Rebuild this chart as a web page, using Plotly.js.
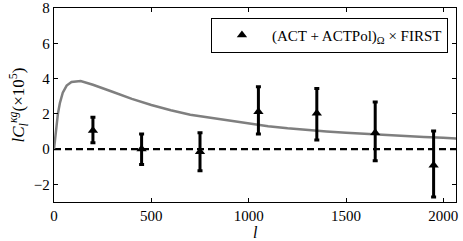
<!DOCTYPE html>
<html>
<head>
<meta charset="utf-8">
<script src="https://cdn.plot.ly/plotly-3.0.1.min.js"></script>
<style>html,body{margin:0;padding:0;background:#fff;}#chart{width:463px;height:241px;}</style>
</head>
<body>
<div id="chart"></div>
<script>
// Data points (ACT+ACTPol)_Omega x FIRST
const ell = [200, 450, 750, 1050, 1350, 1650, 1950];
const clkg = [1.05, 0.0, -0.15, 2.12, 2.03, 0.93, -0.91];
const errUp = [0.75, 0.85, 1.08, 1.42, 1.40, 1.74, 1.93];
const errDown = [0.69, 0.87, 1.08, 1.27, 1.52, 1.59, 1.80];

// Theory curve
const thL = [0, 10, 20, 30, 45, 65, 90, 137, 200, 300, 400, 500, 600, 700, 800, 900, 1000, 1100, 1200, 1300, 1400, 1500, 1600, 1700, 1800, 1900, 2000, 2070];
const thC = [0, 1.1, 2.0, 2.6, 3.2, 3.6, 3.8, 3.86, 3.65, 3.25, 2.85, 2.5, 2.2, 1.95, 1.78, 1.6, 1.45, 1.3, 1.18, 1.08, 1.0, 0.93, 0.86, 0.79, 0.73, 0.68, 0.64, 0.60];

const xTicks = [0, 500, 1000, 1500, 2000];
const yTicks = [-2, 0, 2, 4, 6, 8];
const legendLabel = '(ACT + ACTPol)<sub>Ω</sub> × FIRST';
const xTitle = '<i>l</i>';

const serif = "'Liberation Serif', 'DejaVu Serif', serif";

const traces = [
  {
    x: thL, y: thC, mode: 'lines', type: 'scatter',
    line: {color: '#7f7f7f', width: 2.5},
    showlegend: false, hoverinfo: 'skip'
  },
  {
    x: ell, y: clkg, mode: 'markers', type: 'scatter',
    name: legendLabel,
    marker: {symbol: 'triangle-up', size: 9, color: '#000'},
    error_y: {type: 'data', symmetric: false, array: errUp, arrayminus: errDown,
              color: '#000', thickness: 3, width: 2.5}
  }
];

const layout = {
  width: 463, height: 241,
  margin: {l: 54, r: 7, t: 8, b: 39},
  paper_bgcolor: '#fff', plot_bgcolor: '#fff',
  font: {family: serif, size: 16, color: '#000'},
  xaxis: {
    range: [0, 2065], tickvals: xTicks, ticktext: xTicks.map(String),
    ticks: 'inside', ticklen: 4, tickcolor: '#000', tickwidth: 1,
    showline: true, linecolor: '#000', linewidth: 1.2, mirror: 'ticks',
    showgrid: false, zeroline: false, ticklabeloverflow: 'allow',
    tickfont: {family: serif, size: 15}
  },
  yaxis: {
    range: [-3, 8], tickvals: yTicks, ticktext: yTicks.map(v => v < 0 ? '\u2212' + Math.abs(v) : String(v)),
    ticks: 'inside', ticklen: 4, tickcolor: '#000', tickwidth: 1,
    showline: true, linecolor: '#000', linewidth: 1.2, mirror: 'ticks',
    showgrid: false, zeroline: false, ticklabeloverflow: 'allow',
    title: {text: '<i>lC</i><sub><i>l</i></sub><sup><i>κg</i></sup>(×10<sup>5</sup>)', font: {family: serif, size: 17}, standoff: 4},
    tickfont: {family: serif, size: 15}
  },
  annotations: [{
    text: xTitle, xref: 'paper', yref: 'paper', x: 0.5, y: 0,
    xanchor: 'center', yanchor: 'top', yshift: -21, showarrow: false,
    borderpad: 0,
    font: {family: serif, size: 16}
  }],
  shapes: [{
    type: 'line', xref: 'paper', x0: 0, x1: 1, yref: 'y', y0: 0, y1: 0,
    line: {color: '#000', width: 2.2, dash: '7px,4px'}, layer: 'below'
  }],
  legend: {
    x: 0.98, y: 0.95, xanchor: 'right', yanchor: 'top',
    bgcolor: '#fff', bordercolor: '#000', borderwidth: 1,
    itemwidth: 50,
    font: {family: serif, size: 15}
  },
  showlegend: true
};

Plotly.newPlot('chart', traces, layout, {staticPlot: true, displayModeBar: false});
</script>
</body>
</html>
